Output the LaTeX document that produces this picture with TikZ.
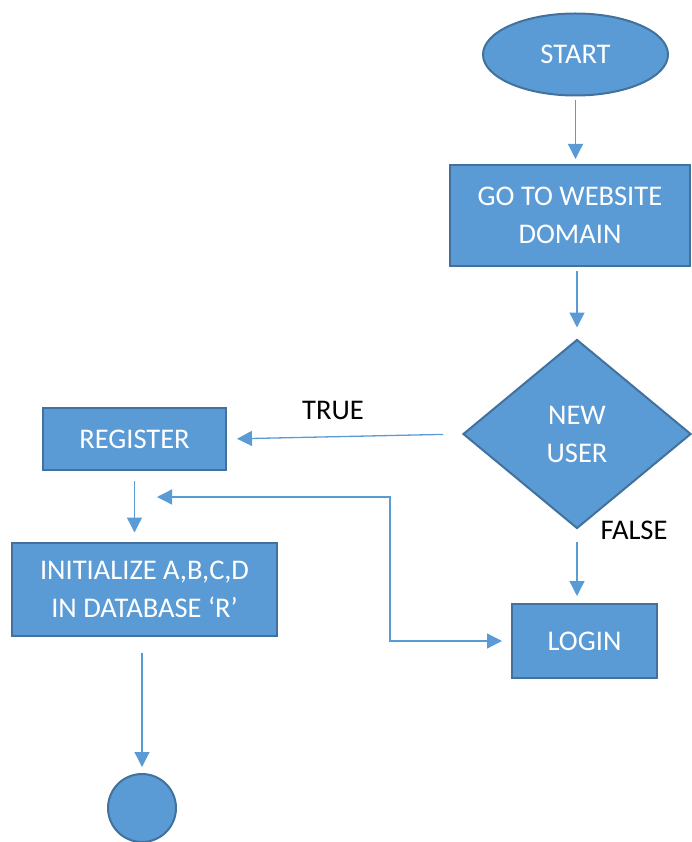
\documentclass[tikz,border=0pt]{standalone}
\usepackage{fontspec}
\setmainfont{Carlito}
\usetikzlibrary{shapes.geometric,arrows.meta}
\definecolor{boxfill}{HTML}{5B9BD5}
\definecolor{boxline}{HTML}{41719C}
\begin{document}
\begin{tikzpicture}[x=1pt,y=-1pt,
  every node/.style={font=\fontsize{28.5}{38}\selectfont},
  shapebox/.style={draw=boxline,line width=2pt,fill=boxfill,text=white,align=center,inner sep=0pt},
  flow/.style={draw=boxfill,line width=1.3pt,-{Triangle[width=15pt,length=15pt]}},
  lbl/.style={text=black}]
\useasboundingbox (0,0) rectangle (691,842);
\node[shapebox,ellipse,minimum width=185pt,minimum height=82pt] (start) at (575.5,54.5) {START};
\node[shapebox,rectangle,minimum width=240pt,minimum height=101pt] (web) at (570,215.5) {GO TO WEBSITE\\DOMAIN};
\node[shapebox,diamond,minimum width=228pt,minimum height=189pt] (new) at (577,434) {NEW\\USER};
\node[shapebox,rectangle,minimum width=145pt,minimum height=74pt] (login) at (584.5,641) {LOGIN};
\node[shapebox,rectangle,minimum width=183pt,minimum height=62pt] (reg) at (134.5,439) {REGISTER};
\node[shapebox,rectangle,minimum width=265pt,minimum height=93pt] (init) at (144.5,589) {INITIALIZE A,B,C,D\\IN DATABASE ‘R’};
\node[shapebox,circle,minimum size=68pt] (end) at (142,808) {};
\node[lbl] (true) at (333,410) {TRUE};
\node[lbl] (false) at (634,530) {FALSE};
\coordinate (loopend) at (157,497);
\coordinate (bend) at (390,497);
\draw[flow,shorten <=4pt,shorten >=5pt] (start) -- (start |- web.north);
\draw[flow,shorten <=4pt,shorten >=11pt] (web.south -| new.north) -- (new.north);
\draw[flow,shorten <=19pt,shorten >=10pt] (new.west) -- (reg.east);
\draw[flow,shorten <=12pt,shorten >=7pt] (new.south) -- (new.south |- login.north);
\draw[flow,shorten <=10pt,shorten >=9pt] (reg.south) -- (reg.south |- init.north);
\draw[flow,shorten <=16pt,shorten >=6pt] (init.south -| end.north) -- (end.north);
\draw[flow,{Triangle[width=15pt,length=15pt]}-{Triangle[width=15pt,length=15pt]},shorten >=9pt] (loopend) -- (bend) |- (login.west);
\end{tikzpicture}
\end{document}
